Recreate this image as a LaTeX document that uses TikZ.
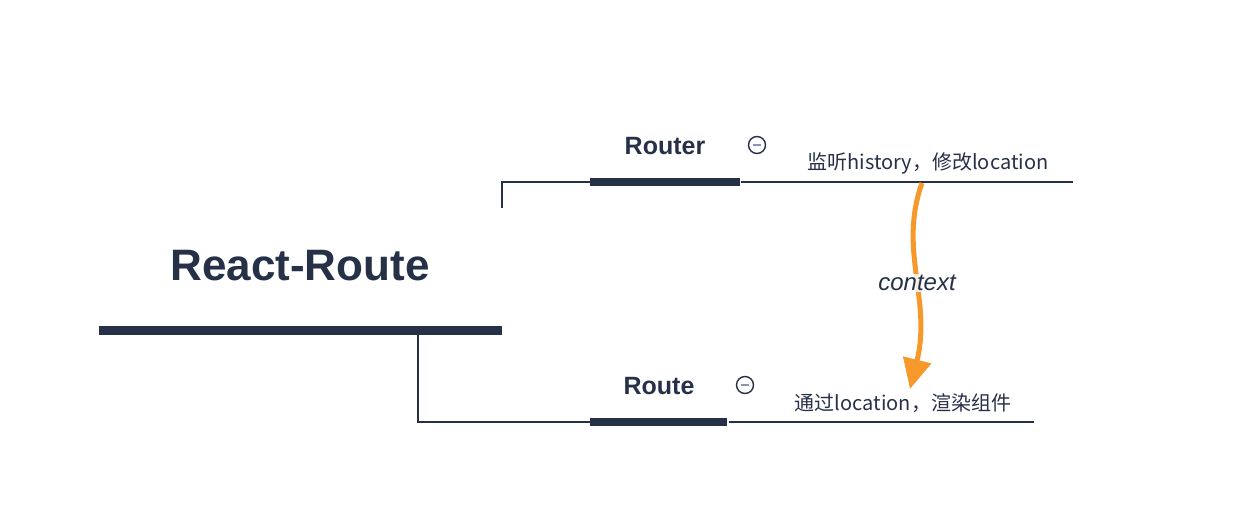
\documentclass[tikz,border=0pt]{standalone}
\usepackage{fontspec}
\setmainfont{Liberation Sans}
\newfontfamily\cjkfont{Noto Sans CJK SC}
\usetikzlibrary{arrows.meta}
\definecolor{navy}{RGB}{38,49,71}
\definecolor{arroworange}{RGB}{247,152,42}
\definecolor{minusgray}{RGB}{140,146,190}
\tikzset{
  bar/.style={draw=navy, line width=7.5pt},
  mainbar/.style={draw=navy, line width=9pt},
  thin/.style={draw=navy, line width=1.6pt},
  title/.style={text=navy, font=\bfseries\fontsize{44}{50}\selectfont, inner sep=0pt},
  topic/.style={text=navy, font=\bfseries\fontsize{25}{30}\selectfont, inner sep=0pt},
  note/.style={text=navy, font=\cjkfont\fontsize{20}{24}\selectfont, inner sep=0pt},
  toggle/.style={circle, draw=navy, line width=1.4pt, fill=white, minimum size=17pt, inner sep=0pt,
    path picture={\draw[minusgray, line width=1.4pt] ([xshift=-4pt]path picture bounding box.center) -- ([xshift=4pt]path picture bounding box.center);}},
  ctx/.style={text=navy, font=\itshape\fontsize{24}{28}\selectfont, fill=white, fill opacity=0.85, text opacity=1, inner sep=1pt}
}
\begin{document}
\begin{tikzpicture}[x=1pt,y=-1pt]
\useasboundingbox (0,0) rectangle (1250,520);
% root
\node[title] (root) at (300,266) {React-Route};
\coordinate (rootL) at (99,330);
\coordinate (rootR) at (502,330);
\draw[mainbar] (rootL) -- (rootR);
% Router branch
\coordinate (upStart) at (502,208);
\coordinate (routerL) at (590,182);
\coordinate (routerR) at (740,182);
\coordinate (routerEnd) at (1073,182);
\draw[thin] (upStart) |- (routerL);
\draw[bar] (routerL) -- (routerR);
\draw[thin] ([xshift=1pt]routerR) -- (routerEnd);
\node[topic] (router) at (665,146) {Router};
\node[toggle] (tog1) at (757,145) {};
\node[note] (n1) at (928,163) {监听history，修改location};
% Route branch
\coordinate (downStart) at (418,334);
\coordinate (routeL) at (590,422);
\coordinate (routeR) at (727,422);
\coordinate (routeEnd) at (1034,422);
\draw[thin] (downStart) |- (routeL);
\draw[bar] (routeL) -- (routeR);
\draw[thin] ([xshift=2pt]routeR) -- (routeEnd);
\node[topic] (route) at (659,386) {Route};
\node[toggle] (tog2) at (745,385) {};
\node[note] (n2) at (903,403) {通过location，渲染组件};
% context arrow
\coordinate (ctxStart) at (922,183);
\coordinate (ctxEnd) at (910,389);
\draw[arroworange, line width=5pt, -{Triangle[length=30pt,width=28pt]}]
  (ctxStart) .. controls (898,250) and (932,300) .. (ctxEnd);
\node[ctx] (ctx) at (917,283) {context};
\end{tikzpicture}
\end{document}
